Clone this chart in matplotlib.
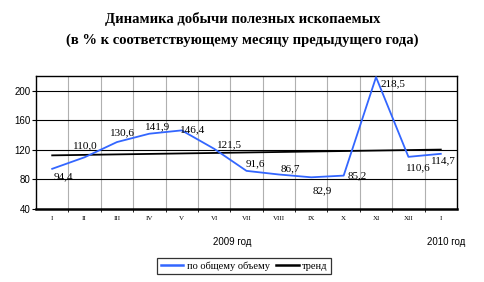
import matplotlib
matplotlib.use("Agg")
import matplotlib.pyplot as plt
from matplotlib.lines import Line2D

months = ["I", "II", "III", "IV", "V", "VI", "VII", "VIII", "IX", "X", "XI", "XII", "I"]
total = [94.4, 110.0, 130.6, 141.9, 146.4, 121.5, 91.6, 86.7, 82.9, 85.2, 218.5, 110.6, 114.7]
trend_ends = [112.6, 120.4]
y_ticks = [40, 80, 120, 160, 200]
title = "Динамика добычи полезных ископаемых\n(в % к соответствующему месяцу предыдущего года)"
year_labels = ["2009 год", "2010 год"]
legend_labels = ["по общему объему", "тренд"]

# label offsets in pixels (styling)
label_offsets = [(11, -8), (1, 11), (6, 9), (8, 7), (11, 1), (15, 4), (9, 7),
                 (11, 6), (11, -13), (14, 0), (17, -7), (10, -11), (3, -7)]

W, H = 485, 282
fig = plt.figure(figsize=(W / 100, H / 100), dpi=100)
ax = fig.add_axes([36 / W, 1 - 209 / H, (457 - 36) / W, (209 - 76) / H])

x = list(range(len(months)))
blue = "#3366FF"
ax.plot(x, total, color=blue, lw=1.3, zorder=4, solid_joinstyle="round")
ax.plot([x[0], x[-1]], trend_ends, color="black", lw=1.3, zorder=3)

ax.set_xlim(-0.5, len(months) - 0.5)
ax.set_ylim(40, 220)
ax.set_yticks(y_ticks)
ax.set_yticklabels([str(v) for v in y_ticks], fontsize=7, family="Liberation Sans")
ax.tick_params(axis="y", length=3, width=0.8, pad=1)

# x axis: boundaries as major ticks, labels on minor ticks at centers
ax.set_xticks([i + 0.5 for i in range(len(months) - 1)])
ax.set_xticklabels([])
ax.set_xticks(x, minor=True)
ax.set_xticklabels(months, minor=True, fontsize=5, family="Liberation Serif")
ax.tick_params(axis="x", which="major", length=2, width=0.6, direction="out")
ax.tick_params(axis="x", which="minor", length=0, pad=5)

for v in y_ticks[1:]:
    ax.axhline(v, color="black", lw=0.8, zorder=1)
for i in range(len(months) - 1):
    ax.axvline(i + 0.5, color="#b0b0b0", lw=0.8, zorder=0)

for s in ax.spines.values():
    s.set_linewidth(1.0)
ax.spines["bottom"].set_linewidth(1.8)

for xi, v, (dx, dy) in zip(x, total, label_offsets):
    ax.annotate(f"{v:.1f}".replace(".", ","), (xi, v), xytext=(dx, dy),
                textcoords="offset pixels", ha="center", va="center",
                fontsize=8, family="Liberation Serif", zorder=5)

fig.text(0.5, 1 - 19 / H, title.split("\n")[0], ha="center", va="center", fontsize=10.5,
         fontweight="bold", family="Liberation Serif")
fig.text(0.5, 1 - 40 / H, title.split("\n")[1], ha="center", va="center", fontsize=10.5,
         fontweight="bold", family="Liberation Serif")

fig.text(232 / W, 1 - 242 / H, year_labels[0], ha="center", va="center",
         fontsize=7, family="Liberation Sans")
fig.text(446 / W, 1 - 242 / H, year_labels[1], ha="center", va="center",
         fontsize=7, family="Liberation Sans")

handles = [Line2D([], [], color=blue, lw=1.8), Line2D([], [], color="black", lw=1.8)]
leg = fig.legend(handles, legend_labels, loc="center", bbox_to_anchor=(244 / W, 1 - 266 / H),
                 ncol=2, frameon=True, fancybox=False,
                 prop={"family": "Liberation Serif", "size": 7.5},
                 handlelength=2.2, handletextpad=0.3, columnspacing=0.6,
                 borderpad=0.3, borderaxespad=0)
leg.get_frame().set_edgecolor("black")
leg.get_frame().set_linewidth(0.9)

fig.savefig("out.png", dpi=100)
